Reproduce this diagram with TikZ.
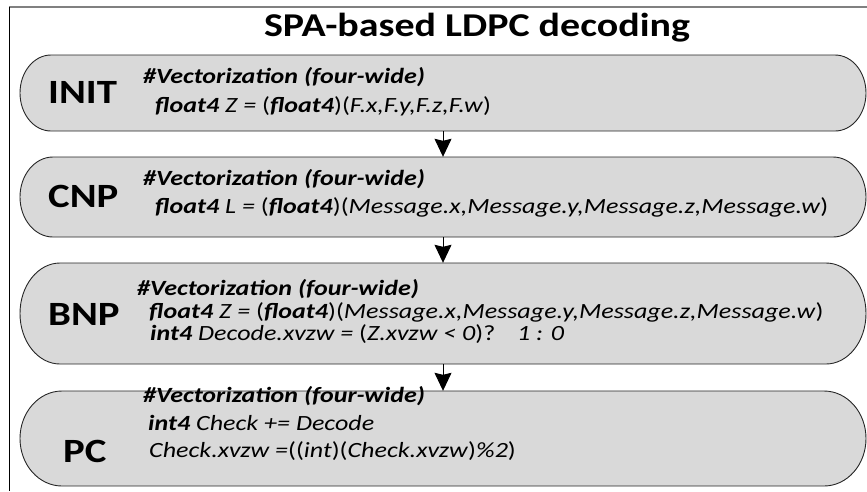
\documentclass[tikz,border=0pt]{standalone}
\usepackage{fontspec}
\setmainfont{Carlito}[FakeStretch=1.2]
\usetikzlibrary{arrows.meta}

% bold-italic keyword and upright punctuation in code lines
\newcommand\kw[1]{\textbf{\textit{#1}}}
\newcommand\up[1]{\textup{#1}}

\tikzset{
  boxshape/.style={fill=black!15, draw=black!85, line width=0.9pt},
  stagelabel/.style={anchor=base west, inner sep=0pt, font=\fontsize{34}{38}\selectfont\bfseries},
  codeline/.style={anchor=base west, inner sep=0pt, font=\fontsize{21.7}{26}\selectfont\itshape},
  flowarrow/.style={draw=black, line width=0.9pt, -{Stealth[length=18pt,width=17pt,inset=2pt]}},
}

% stadium-shaped stage box: name, top y, bottom y, horizontal end radius
\newcommand\stagebox[4]{%
  \path[boxshape] (20+#4,-#2) -- (866-#4,-#2)
    arc[start angle=90, end angle=-90, x radius=#4, y radius={(#3-#2)/2}]
    -- (20+#4,-#3)
    arc[start angle=270, end angle=90, x radius=#4, y radius={(#3-#2)/2}]
    -- cycle;
  \node[inner sep=0pt, minimum width=846pt, minimum height={(#3-#2)*1pt}] (#1) at (443,{-(#2+#3)/2}) {};
}

\begin{document}
\begin{tikzpicture}[x=1pt, y=1pt]
\useasboundingbox (0,0) rectangle (867,-491);

% outer frame
\draw[black!50, line width=2pt] (9,-7) -- (867,-7);
\draw[black, line width=1pt] (9.5,-7) -- (9.5,-491);

% title
\node[anchor=base, inner sep=0pt, font=\fontsize{33.3}{38}\selectfont\bfseries] (title) at (477,-36) {SPA-based LDPC decoding};

% stage boxes
\stagebox{init}{55}{131}{31}
\stagebox{cnp}{157}{237}{33}
\stagebox{bnp}{263}{364}{40}
\stagebox{pc}{391}{486}{42}

% INIT
\node[stagelabel] (initlbl) at (48,-103) {INIT};
\node[codeline] (init1) at (143,-83) {\kw{\#Vectorization (four-wide)}};
\node[codeline] (init2) at (155,-112) {\kw{float4} Z = \up{(}\kw{float4}\up{)(}F.x,F.y,F.z,F.w\up{)}};

% CNP
\node[stagelabel] (cnplbl) at (48,-207) {CNP};
\node[codeline] (cnp1) at (143,-185) {\kw{\#Vectorization (four-wide)}};
\node[codeline] (cnp2) at (155,-213) {\kw{float4} L = \up{(}\kw{float4}\up{)(}Message.x,Message.y,Message.z,Message.w\up{)}};

% BNP
\node[stagelabel] (bnplbl) at (48,-325) {BNP};
\node[codeline] (bnp1) at (137,-295) {\kw{\#Vectorization (four-wide)}};
\node[codeline] (bnp2) at (149,-318) {\kw{float4} Z = \up{(}\kw{float4}\up{)(}Message.x,Message.y,Message.z,Message.w\up{)}};
\node[codeline] (bnp3) at (150,-340) {\kw{int4} Decode.xvzw = \up{(}Z.xvzw < 0\up{)?}\quad 1 : 0};

% PC
\node[stagelabel] (pclbl) at (63,-462) {PC};
\node[codeline] (pc1) at (143,-402) {\kw{\#Vectorization (four-wide)}};
\node[codeline] (pc2) at (148,-430) {\kw{int4} Check += Decode};
\node[codeline] (pc3) at (149,-457) {Check.xvzw =\up{((}int\up{)(}Check.xvzw\up{)}\%2\up{)}};

% flow between stages
\draw[flowarrow] (init.south) -- (cnp.north);
\draw[flowarrow] (cnp.south) -- (bnp.north);
\draw[flowarrow] (bnp.south) -- (pc.north);
\end{tikzpicture}
\end{document}
